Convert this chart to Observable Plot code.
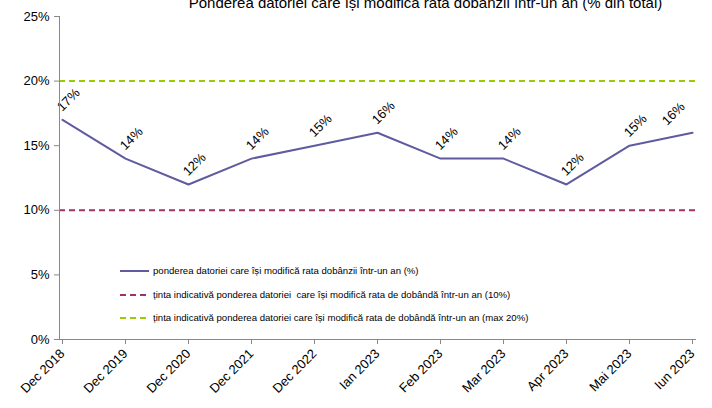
<!DOCTYPE html>
<html><head><meta charset="utf-8">
<script src="https://cdn.jsdelivr.net/npm/d3@7"></script>
<script src="https://cdn.jsdelivr.net/npm/@observablehq/plot@0.6"></script>
<style>
body{margin:0;background:#fff;font-family:"Liberation Sans",Arial,sans-serif}
#wrap{position:relative;width:712px;height:408px;overflow:hidden}
#legend{position:absolute;left:120px;top:265px;font-size:9.6px;color:#000;line-height:12px}
#legend .row{display:flex;align-items:center;height:12px;margin-bottom:11.5px;white-space:pre}
#legend svg{margin-right:3px}
</style></head>
<body><div id="wrap"></div>
<script>
const periods = ["Dec 2018","Dec 2019","Dec 2020","Dec 2021","Dec 2022","Ian 2023","Feb 2023","Mar 2023","Apr 2023","Mai 2023","Iun 2023"];
const values = [17,14,12,14,15,16,14,14,12,15,16];
const target10 = 10;
const targetMax = 20;
const yTicks = [0,5,10,15,20,25];
const title = "Ponderea datoriei care își modifică rata dobânzii într-un an (% din total)";
const legendLabels = [
  "ponderea datoriei care își modifică rata dobânzii într-un an (%)",
  "ținta indicativă ponderea datoriei  care își modifică rata de dobândă într-un an (10%)",
  "ținta indicativă ponderea datoriei care își modifică rata de dobândă într-un an (max 20%)"
];
const colors = ["#5f5b9e", "#a0306a", "#99cc00"];
const dashes = [null, "6,4", "6,4"];

const data = periods.map((p, i) => ({p, v: values[i], last: i === periods.length - 1}));
const labelOpts = {x: "p", y: "v", text: d => d.v + "%", rotate: -45, fontSize: 13, fill: "#000"};

const chart = Plot.plot({
  width: 712, height: 408,
  marginLeft: 59, marginRight: 17, marginTop: 16, marginBottom: 69,
  style: {fontFamily: "Liberation Sans, Arial, sans-serif", fontSize: "13px", color: "#000", background: "#fff"},
  x: {type: "point", domain: periods, padding: 0, label: null},
  y: {domain: [0, 25], label: null},
  marks: [
    Plot.ruleY([target10], {stroke: colors[1], strokeDasharray: dashes[1], strokeWidth: 2}),
    Plot.ruleY([targetMax], {stroke: colors[2], strokeDasharray: dashes[2], strokeWidth: 2}),
    Plot.line(data, {x: "p", y: "v", stroke: colors[0], strokeWidth: 2}),
    Plot.text(data, {...labelOpts, filter: d => !d.last, dx: 6, dy: -20}),
    Plot.text(data, {...labelOpts, filter: d => d.last, dx: -19, dy: -19}),
    Plot.axisY({ticks: yTicks, tickFormat: d => d + "%", tickSize: 5, tickPadding: 5, stroke: "#888", fontSize: 13}),
    Plot.frame({anchor: "left", stroke: "#888"}),
    Plot.axisX({tickRotate: -45, tickSize: 5, tickPadding: 7, stroke: "#888", fontSize: 13}),
    Plot.frame({anchor: "bottom", stroke: "#888"}),
    Plot.text([title], {frameAnchor: "top", lineAnchor: "bottom", dx: 48, dy: -9, fontSize: 15, fill: "#000"})
  ]
});
const wrap = document.getElementById("wrap");
wrap.appendChild(chart);

const leg = document.createElement("div");
leg.id = "legend";
legendLabels.forEach((t, i) => {
  const row = document.createElement("div");
  row.className = "row";
  row.innerHTML = `<svg width="30" height="6"><line x1="0" x2="29" y1="3" y2="3" stroke="${colors[i]}" stroke-width="2" ${dashes[i] ? `stroke-dasharray="${dashes[i]}"` : ""}/></svg>`;
  const span = document.createElement("span");
  span.textContent = t;
  row.appendChild(span);
  leg.appendChild(row);
});
wrap.appendChild(leg);
</script>
</body></html>
